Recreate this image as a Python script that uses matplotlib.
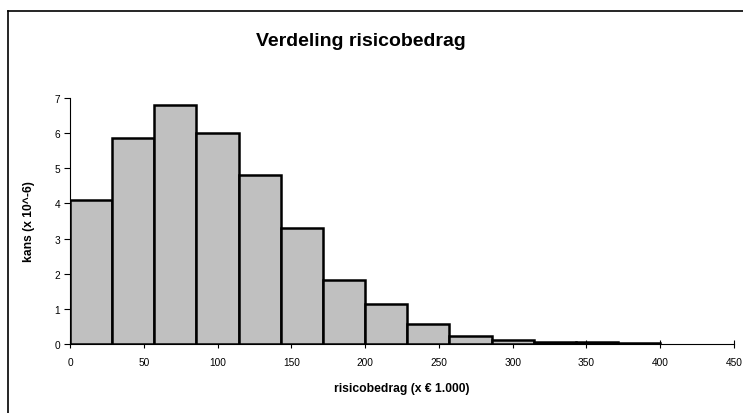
import matplotlib
matplotlib.use("Agg")
import matplotlib.pyplot as plt
from matplotlib.lines import Line2D

plt.rcParams['font.family'] = ['Liberation Sans', 'DejaVu Sans']

# bin edges (x 1.000 euro) and probabilities (x 10^-6)
bin_width = 400 / 14
bin_left = [i * bin_width for i in range(14)]
kans = [4.10, 5.87, 6.80, 6.01, 4.80, 3.29, 1.81, 1.15, 0.57, 0.22, 0.12, 0.05, 0.05, 0.02]

xticks = [0, 50, 100, 150, 200, 250, 300, 350, 400, 450]
yticks = [0, 1, 2, 3, 4, 5, 6, 7]

fig = plt.figure(figsize=(7.43, 4.14), dpi=100)
ax = fig.add_axes([70/743, 1-345/414, (734-70)/743, (345-99)/414])

ax.bar(bin_left, kans, width=bin_width, align='edge',
       color='#c0c0c0', edgecolor='black', linewidth=1.8, zorder=3)

ax.set_xlim(0, 450)
ax.set_ylim(0, 7)
ax.set_xticks(xticks)
ax.set_yticks(yticks)
ax.tick_params(axis='x', direction='inout', length=6, width=0.8, labelsize=7.3, pad=6)
ax.tick_params(axis='y', direction='out', length=4, width=0.8, labelsize=7.3, pad=3)

for s in ['top', 'right']:
    ax.spines[s].set_visible(False)
ax.spines['left'].set_linewidth(0.8)
ax.spines['bottom'].set_linewidth(0.8)

ax.set_xlabel('risicobedrag (x \u20ac 1.000)', fontsize=8.7, fontweight='bold')
ax.set_ylabel('kans (x 10^-6)', fontsize=8.7, fontweight='bold')
ax.xaxis.set_label_coords(0.5, -0.155)
ax.yaxis.set_label_coords(-0.053, 0.5)

fig.text(361/743, 1-42/414, 'Verdeling risicobedrag', ha='center', va='center',
         fontsize=14, fontweight='bold')

# outer chart border (left and top only visible)
fig.add_artist(Line2D([8/743, 8/743], [0, 1-12/414], transform=fig.transFigure,
                      color='black', linewidth=1.2))
fig.add_artist(Line2D([8/743, 1], [1-12/414, 1-12/414], transform=fig.transFigure,
                      color='black', linewidth=1.2))

fig.savefig('out.png', dpi=100)
